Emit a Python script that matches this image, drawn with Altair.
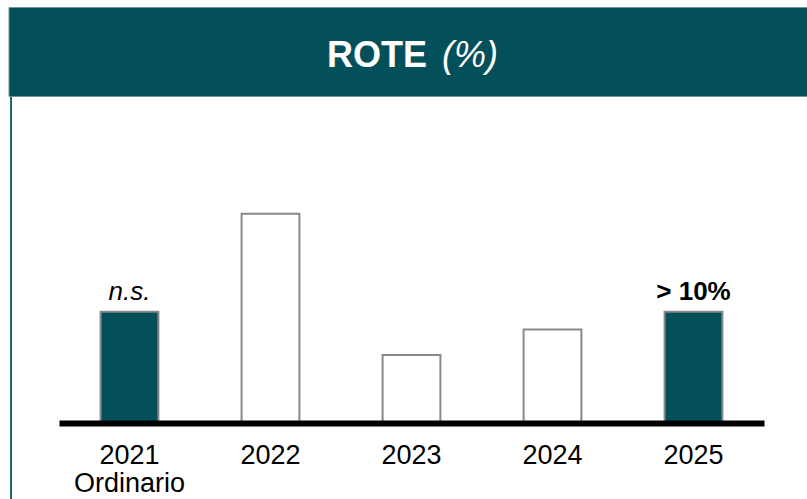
import altair as alt
import pandas as pd

categories = ["2021 Ordinario", "2022", "2023", "2024", "2025"]
values = [10.0, 18.8, 6.1, 8.4, 10.0]
styles = ["solid", "open", "open", "open", "solid"]
notes = ["n.s.", "", "", "", "> 10%"]

TEAL = "#03505A"
FONT = "Liberation Sans"

df = pd.DataFrame({"cat": categories, "val": values, "style": styles, "note": notes})
one = alt.Data(values=[{"a": 1}])

x = alt.X("cat:N", sort=categories, title=None,
          scale=alt.Scale(paddingInner=0.59, paddingOuter=0.295),
          axis=alt.Axis(labelAngle=0, labelFont=FONT, labelFontSize=27, labelColor="#000",
                        labelExpr="split(datum.label, ' ')", labelLineHeight=28,
                        labelPadding=19, ticks=False, tickSize=0, domainColor="#000",
                        domainWidth=6, zindex=1))
y = alt.Y("val:Q", scale=alt.Scale(domain=[0, 38.0], nice=False), axis=None)

header = alt.Chart(one).mark_rect(color=TEAL, stroke="#6f9396", strokeWidth=1).encode(
    x=alt.value(-50), x2=alt.value(749), y=alt.value(7.5), y2=alt.value(96.5))
side = alt.Chart(one).mark_rule(color="#1b6770", strokeWidth=2).encode(
    x=alt.value(-48), y=alt.value(97), y2=alt.value(499))
t1 = alt.Chart(one).mark_text(text="ROTE", font=FONT, fontSize=36, fontWeight="bold",
                              color="white", align="right", baseline="alphabetic").encode(
    x=alt.value(368), y=alt.value(67))
t2 = alt.Chart(one).mark_text(text="(%)", font=FONT, fontSize=36, fontStyle="italic",
                              color="white", align="left", baseline="alphabetic").encode(
    x=alt.value(383), y=alt.value(67))

base = alt.Chart(df)
bars = base.mark_bar(stroke="#888888", strokeWidth=2).encode(
    x=x, y=y,
    fill=alt.Fill("style:N", scale=alt.Scale(domain=["solid", "open"], range=[TEAL, "white"]),
                  legend=None))
ns = base.transform_filter("datum.note == 'n.s.'").mark_text(
    font=FONT, fontSize=26, fontStyle="italic", color="#000", baseline="alphabetic", dy=-12
).encode(x=alt.X("cat:N", sort=categories), y="val:Q", text="note:N")
gt = base.transform_filter("datum.note == '> 10%'").mark_text(
    font=FONT, fontSize=26, fontWeight="bold", color="#000", baseline="alphabetic", dy=-12
).encode(x=alt.X("cat:N", sort=categories), y="val:Q", text="note:N")

chart = alt.layer(header, side, t1, t2, bars, ns, gt).properties(
    width=705, height=423,
    autosize=alt.AutoSizeParams(type="none"),
    padding={"left": 59, "top": 0, "right": 43, "bottom": 76},
    background="white",
).configure_view(stroke=None)

chart.save("out.html", embed_options={"renderer": "svg", "actions": False})
